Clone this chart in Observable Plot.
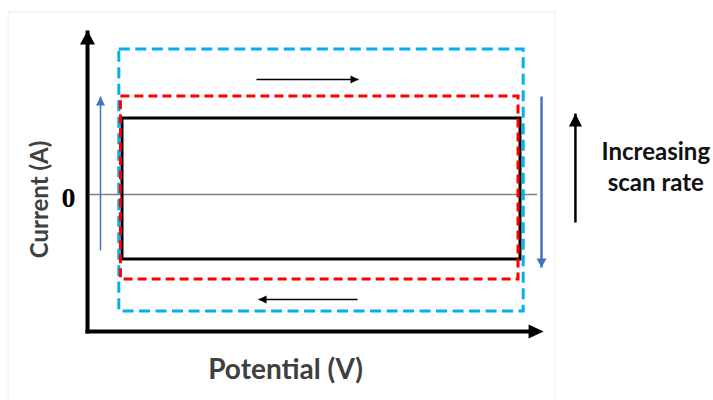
<!DOCTYPE html>
<html><head><meta charset="utf-8">
<script src="https://cdn.jsdelivr.net/npm/d3@7"></script>
<script src="https://cdn.jsdelivr.net/npm/@observablehq/plot@0.6"></script>
<style>body{margin:0;background:#fff} svg{display:block}</style>
</head><body><div id="chart"></div>
<script>
// ---- data (schematic CV of an ideal capacitor at three scan rates) ----
const scanRates = ["low", "medium", "high"];
const anodicCurrent = [0.76, 0.98, 1.45];     // upper plateau (arb. units)
const cathodicCurrent = [-0.65, -0.85, -1.17]; // lower plateau
const potentialStart = [0, -0.004, -0.008];
const potentialEnd = [1, 0.995, 1.008];
const yTickValues = [0];
const yTickLabels = ["0"];
const xAxisLabel = "Potential (V)";
const yAxisLabel = "Current (A)";
const noteLines = ["Increasing", "scan rate"];

const cycles = scanRates.map((rate, i) => ({
  rate, e1: potentialStart[i], e2: potentialEnd[i], iUp: anodicCurrent[i], iDown: cathodicCurrent[i]
}));
const styles = {
  low: {stroke: "#000000", strokeWidth: 3, strokeDasharray: null},
  medium: {stroke: "#ff0000", strokeWidth: 3, strokeDasharray: "9,5"},
  high: {stroke: "#00b0f0", strokeWidth: 3, strokeDasharray: "11,5.5"}
};

// arrowhead symbols with the tip at the origin
function head(dir, len, half) {
  return {draw(ctx) {
    const pts = {
      up: [[0,0],[-half,len],[half,len]],
      down: [[0,0],[-half,-len],[half,-len]],
      right: [[0,0],[-len,-half],[-len,half]],
      left: [[0,0],[len,-half],[len,half]]
    }[dir];
    ctx.moveTo(...pts[0]); ctx.lineTo(...pts[1]); ctx.lineTo(...pts[2]); ctx.closePath();
  }};
}
function arrow(x1, y1, x2, y2, dir, color, width, len, half) {
  return [
    Plot.link([{x1, y1, x2, y2}], {x1: "x1", y1: "y1", x2: "x2", y2: "y2", stroke: color, strokeWidth: width}),
    Plot.dot([{x: x2, y: y2}], {x: "x", y: "y", symbol: head(dir, len, half), fill: color, stroke: "none"})
  ];
}

const rectMarks = ["low", "high", "medium"].map(rate =>
  Plot.rect(cycles.filter(d => d.rate === rate), {
    x1: "e1", x2: "e2", y1: "iDown", y2: "iUp", fill: "none", ...styles[rate]
  })
);

const plot = Plot.plot({
  width: 713, height: 400,
  marginLeft: 0, marginRight: 0, marginTop: 0, marginBottom: 0,
  x: {domain: [-122/398, 591/398], axis: null},
  y: {domain: [-2.06, 1.94], axis: null},
  style: {background: "#fff", overflow: "visible"},
  marks: [
    // faint picture border
    Plot.rect([{}], {x1: () => -0.286, x2: () => 1.088, y1: () => 1.82, y2: () => -2.2, fill: "none", stroke: "#eeeeee", strokeWidth: 1}),
    // zero line
    Plot.ruleY(yTickValues, {x1: -0.088, x2: 1.043, stroke: "#7f7f7f", strokeWidth: 1.5}),
    ...rectMarks,
    // axes with arrowheads
    ...arrow(-0.0879, -1.39, -0.0879, 1.64, "up", "#000", 4, 14, 7.5),
    Plot.link([{x1: -0.093, y1: -1.37, x2: 1.045, y2: -1.37}], {x1: "x1", y1: "y1", x2: "x2", y2: "y2", stroke: "#000", strokeWidth: 4}),
    Plot.dot([{x: 1.058, y: -1.37}], {x: "x", y: "y", symbol: head("right", 15, 7), fill: "#000", stroke: "none"}),
    // scan direction arrows
    ...arrow(-0.0553, -0.56, -0.0553, 0.98, "up", "#4472c4", 1.5, 9, 4.5),
    ...arrow(1.0528, 0.98, 1.0528, -0.73, "down", "#4472c4", 2.5, 9, 5),
    ...arrow(0.3367, 1.15, 0.593, 1.15, "right", "#000", 1.5, 8, 4),
    ...arrow(0.5905, -1.05, 0.3417, -1.05, "left", "#000", 1.5, 8, 4),
    ...arrow(1.138, -0.28, 1.138, 0.81, "up", "#000", 2.5, 13, 6.5),
    // labels
    Plot.text(yTickValues, {x: -0.1357, y: d => d - 0.035, text: (d, i) => yTickLabels[i], fontFamily: "Liberation Serif", fontWeight: "bold", fontSize: 28, fill: "#000"}),
    Plot.text([yAxisLabel], {x: -0.206, y: -0.05, text: d => d, rotate: -90, fontFamily: "Lato", fontWeight: 700, fontSize: 24, fill: "#404040"}),
    Plot.text([xAxisLabel], {x: 0.4095, y: -1.755, text: d => d, fontFamily: "Lato", fontWeight: 700, fontSize: 28, fill: "#404040"}),
    Plot.text(noteLines, {x: 1.34, y: (d, i) => [0.42, 0.11][i], text: d => d, fontFamily: "Lato", fontWeight: 700, fontSize: 24, fill: "#111"})
  ]
});
document.getElementById("chart").append(plot);
</script></body></html>
